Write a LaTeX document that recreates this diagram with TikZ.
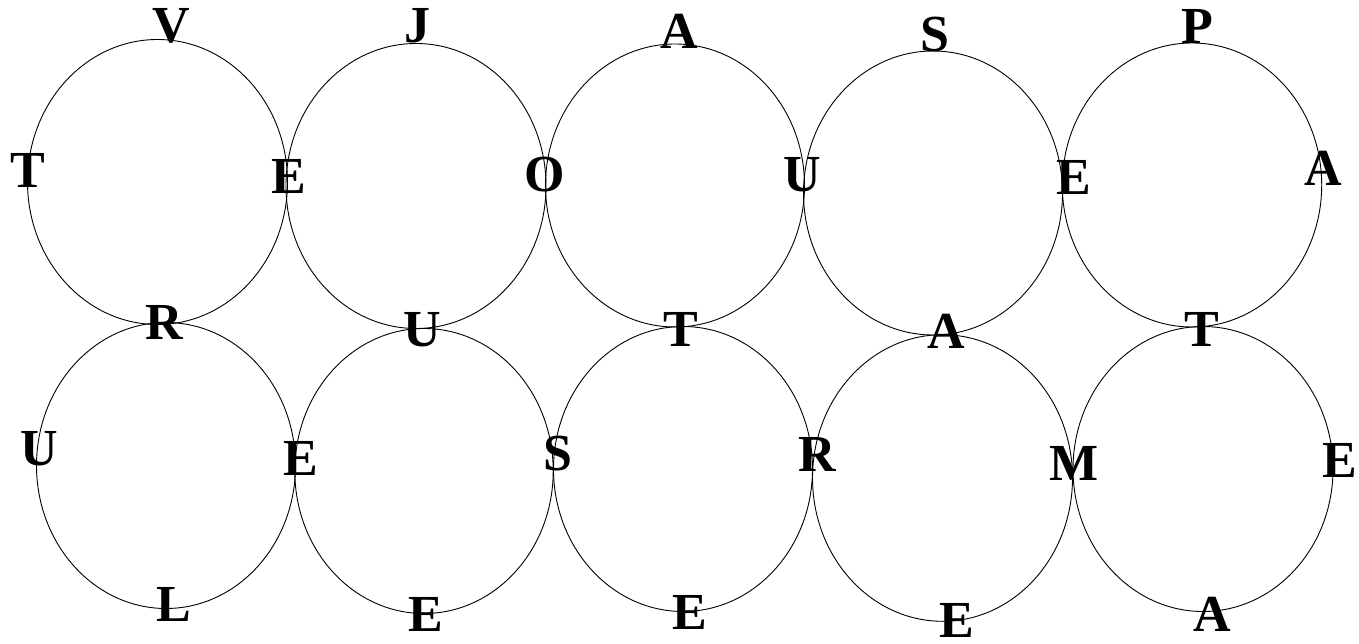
\documentclass[tikz,border=0pt]{standalone}
\usepackage{fontspec}
\setmainfont{Liberation Serif}
\begin{document}
\begin{tikzpicture}[x=1pt,y=-1pt,
  ring/.style={draw=black,line width=0.9pt},
  letter/.style={inner sep=0pt,outer sep=0pt,anchor=center,font=\fontsize{52}{52}\selectfont\bfseries}]
\useasboundingbox (0,0) rectangle (1359,644);
% circles (ellipses)
\draw[ring] (157.5,182) ellipse [x radius=130,y radius=142.5];
\draw[ring] (416,186) ellipse [x radius=130,y radius=142.5];
\draw[ring] (675,185.5) ellipse [x radius=129.5,y radius=141.5];
\draw[ring] (933,193) ellipse [x radius=129.5,y radius=142];
\draw[ring] (1192,185) ellipse [x radius=129.7,y radius=142];
\draw[ring] (166,465.5) ellipse [x radius=129.5,y radius=143];
\draw[ring] (424,471) ellipse [x radius=129.2,y radius=142.5];
\draw[ring] (683,469) ellipse [x radius=129.5,y radius=142.5];
\draw[ring] (942.5,478) ellipse [x radius=130,y radius=143.3];
\draw[ring] (1203,469) ellipse [x radius=130,y radius=142.5];
% letters, top row
\node[letter] (l1) at (171.5,26) {V};
\node[letter] (l2) at (28,170) {T};
\node[letter] (l3) at (289,176) {E};
\node[letter] (l4) at (164.5,322.5) {R};
\node[letter] (l5) at (417,26) {J};
\node[letter] (l6) at (544.5,175) {O};
\node[letter] (l7) at (422,329.5) {U};
\node[letter] (l8) at (679.5,31.5) {A};
\node[letter] (l9) at (802.5,175) {U};
\node[letter] (l10) at (681,329.5) {T};
\node[letter] (l11) at (935,34.5) {S};
\node[letter] (l12) at (1073.5,177.5) {E};
\node[letter] (l13) at (946,331.5) {A};
\node[letter] (l14) at (1197.5,26) {P};
\node[letter] (l15) at (1323,168) {A};
\node[letter] (l16) at (1202,329.5) {T};
% letters, bottom row
\node[letter] (l17) at (39.5,449) {U};
\node[letter] (l18) at (301,458.5) {E};
\node[letter] (l19) at (174,604.5) {L};
\node[letter] (l20) at (558,454) {S};
\node[letter] (l21) at (426,614.5) {E};
\node[letter] (l22) at (817,454) {R};
\node[letter] (l23) at (689.5,612) {E};
\node[letter] (l24) at (1074.5,463.5) {M};
\node[letter] (l25) at (957,620.5) {E};
\node[letter] (l26) at (1340,460.5) {E};
\node[letter] (l27) at (1212.5,614.5) {A};
\end{tikzpicture}
\end{document}
